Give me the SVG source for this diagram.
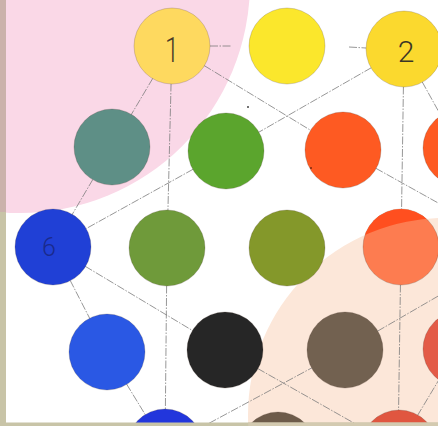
<svg xmlns="http://www.w3.org/2000/svg" width="438" height="426" viewBox="0 0 438 426">
  <style>
    .dot { stroke: rgba(60,40,30,0.2); stroke-width: 1; }
    .ln { fill: none; stroke: #7c7c7c; stroke-width: 0.8; stroke-dasharray: 8 1.5 1.5 1.5; }
    .num { font-family: "Roboto", "Liberation Sans", sans-serif; font-weight: 300; text-anchor: middle; }
  </style>
  <defs>
    <clipPath id="outsidePeach">
      <path clip-rule="evenodd" d="M-10 -10H460V440H-10Z M248 415 A197 197 0 1 0 642 415 A197 197 0 1 0 248 415Z"/>
    </clipPath>
    <clipPath id="insidePeach">
      <circle cx="445" cy="415" r="197"/>
    </clipPath>
  </defs>

  <rect x="0" y="0" width="438" height="426" fill="#ffffff"/>
  <g id="backgrounds">
    <circle cx="20" cy="-17" r="230" fill="#fad8e7"/>
    <circle cx="445" cy="415" r="197" fill="#fce7d9"/>
  </g>

  <g id="connectors">
    <line class="ln" x1="210" y1="46" x2="232" y2="46"/>
    <line class="ln" x1="349" y1="47" x2="366" y2="48"/>
    <line class="ln" x1="172" y1="46" x2="112" y2="147"/>
    <line class="ln" x1="172" y1="46" x2="167" y2="248"/>
    <line class="ln" x1="172" y1="46" x2="343" y2="150"/>
    <line class="ln" x1="343" y1="150" x2="440" y2="204"/>
    <line class="ln" x1="112" y1="147" x2="53" y2="247"/>
    <line class="ln" x1="226" y1="151" x2="53" y2="247"/>
    <line class="ln" x1="404" y1="49" x2="226" y2="151"/>
    <line class="ln" x1="404" y1="49" x2="401" y2="247"/>
    <line class="ln" x1="404" y1="49" x2="440" y2="114"/>
    <line class="ln" x1="53" y1="247" x2="225" y2="350"/>
    <line class="ln" x1="225" y1="350" x2="398" y2="448"/>
    <line class="ln" x1="53" y1="247" x2="107" y2="352"/>
    <line class="ln" x1="107" y1="352" x2="165" y2="447"/>
    <line class="ln" x1="167" y1="248" x2="165" y2="447"/>
    <line class="ln" x1="165" y1="447" x2="345" y2="350"/>
    <line class="ln" x1="345" y1="350" x2="440" y2="295"/>
    <line class="ln" x1="401" y1="247" x2="398" y2="448"/>
    <line class="ln" x1="398" y1="448" x2="440" y2="378"/>
  </g>

  <g id="n-1">
    <circle class="dot" cx="172" cy="46" r="38" fill="#fed95f"/>
    <text class="num" x="0" y="0" font-size="36" fill="#4a3c28" transform="translate(172 62) scale(0.7 1)">1</text>
  </g>
  <g id="n-yellow"><circle class="dot" cx="287" cy="46" r="38" fill="#fbe72c"/></g>
  <g id="n-2">
    <circle class="dot" cx="404" cy="49" r="38" fill="#fbd92e"/>
    <text class="num" x="406" y="62" font-size="30" fill="#3c3626">2</text>
  </g>

  <g id="n-graygreen"><circle class="dot" cx="112" cy="147" r="38" fill="#5e8f86"/></g>
  <g id="n-green"><circle class="dot" cx="226" cy="151" r="38" fill="#5ba52d"/></g>
  <g id="n-orange"><circle class="dot" cx="343" cy="150" r="38" fill="#fe5a22"/></g>
  <g id="n-orange-right"><circle class="dot" cx="461" cy="148" r="38" fill="#fe5a22"/></g>

  <g id="n-6">
    <circle class="dot" cx="53" cy="247" r="38" fill="#2040d6"/>
    <text class="num" x="49" y="256" font-size="25" fill="#1a2a8c">6</text>
  </g>
  <g id="n-olive"><circle class="dot" cx="167" cy="248" r="38" fill="#6f9a3a"/></g>
  <g id="n-olive-yellow"><circle class="dot" cx="287" cy="248" r="38" fill="#84982a"/></g>
  <g id="n-salmon">
    <circle class="dot" cx="401" cy="247" r="38" fill="#fd7c50"/>
    <circle cx="401" cy="247" r="38" fill="#ff4f1f" clip-path="url(#outsidePeach)"/>
  </g>

  <g id="n-blue2"><circle class="dot" cx="107" cy="352" r="38" fill="#2a58e4"/></g>
  <g id="n-black"><circle class="dot" cx="225" cy="350" r="38" fill="#262626"/></g>
  <g id="n-brown"><circle class="dot" cx="345" cy="350" r="38" fill="#726150"/></g>
  <g id="n-red-right"><circle class="dot" cx="461" cy="349" r="38" fill="#e35b47"/></g>

  <g id="n-blue3"><circle class="dot" cx="165" cy="447" r="38" fill="#2236dc"/></g>
  <g id="n-brown2"><circle class="dot" cx="278" cy="450" r="38" fill="#6d5b4a"/></g>
  <g id="n-red-bottom"><circle class="dot" cx="399" cy="448" r="38" fill="#e05640"/></g>

  <g id="specks">
    <circle cx="248" cy="107" r="1" fill="#444"/>
    <circle cx="311" cy="168" r="1" fill="#7a2a10"/>
  </g>

  <g id="border">
    <rect x="0" y="0" width="6" height="212" fill="#cbb2ab"/>
    <rect x="0" y="212" width="6" height="214" fill="#c8c4a7"/>
    <rect x="0" y="422.5" width="438" height="3.5" fill="#c8c4a7"/>
    <rect x="0" y="422.5" width="438" height="3.5" fill="#d3cab0" clip-path="url(#insidePeach)"/>
  </g>
</svg>
